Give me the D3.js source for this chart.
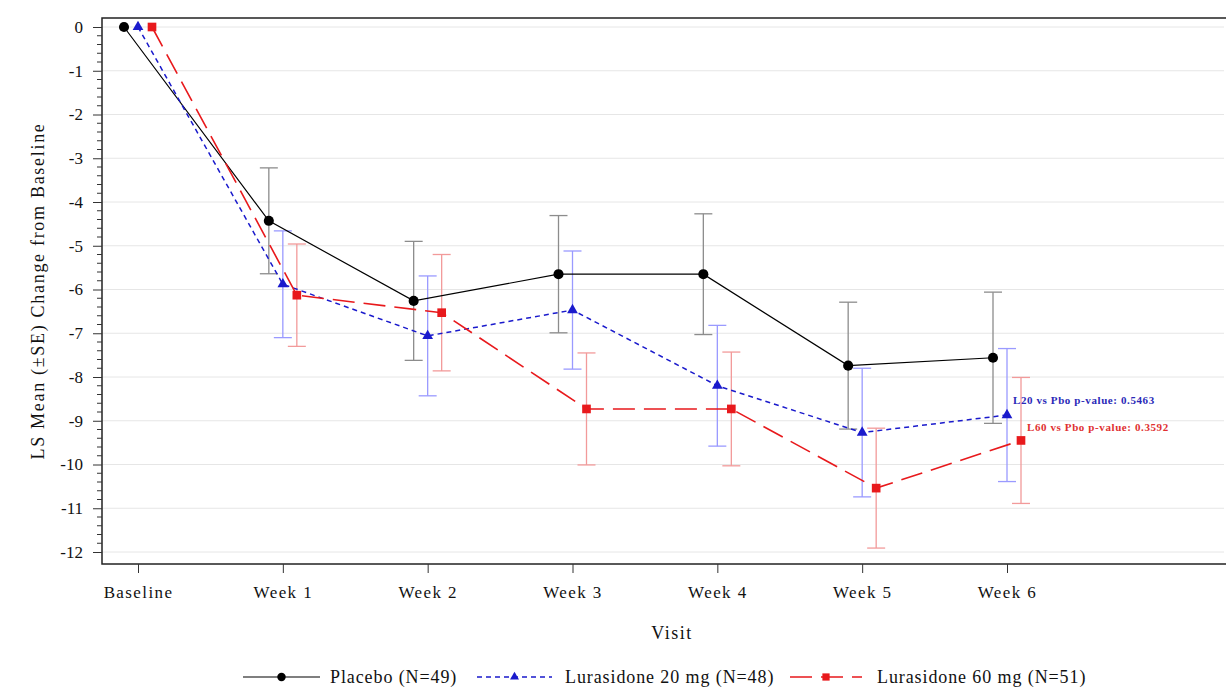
<!DOCTYPE html>
<html><head><meta charset="utf-8">
<script src="https://cdn.jsdelivr.net/npm/d3@7"></script>
<style>body{margin:0;background:#fff}svg{display:block;font-family:"Liberation Serif","Times New Roman",serif}</style>
</head><body><svg id="c" width="1226" height="689"></svg>
<script>
const visits = ["Baseline","Week 1","Week 2","Week 3","Week 4","Week 5","Week 6"];
const placebo   = [0,-4.43,-6.26,-5.65,-5.65,-7.74,-7.56];
const placeboSE = [0,1.21,1.36,1.34,1.38,1.45,1.50];
const l20       = [0,-5.88,-7.06,-6.47,-8.20,-9.27,-8.87];
const l20SE     = [0,1.22,1.37,1.35,1.38,1.47,1.52];
const l60       = [0,-6.13,-6.53,-8.73,-8.73,-10.54,-9.45];
const l60SE     = [0,1.17,1.33,1.28,1.30,1.37,1.44];
const yTicks = [0,-1,-2,-3,-4,-5,-6,-7,-8,-9,-10,-11,-12];
const seriesNames = ["Placebo  (N=49)","Lurasidone 20 mg  (N=48)","Lurasidone 60 mg  (N=51)"];
const pLabels = ["L20 vs Pbo p-value: 0.5463","L60 vs Pbo p-value: 0.3592"];

const svg = d3.select("#c");
const L=102, T=18, R=1224, B=564;
const x = d3.scalePoint().domain(visits).range([138,1007]);
const y = d3.scaleLinear().domain([-12,0]).range([552,27]);

// grid
svg.append("g").selectAll("line").data(yTicks).join("line")
  .attr("x1",L).attr("x2",R).attr("y1",d=>y(d)).attr("y2",d=>y(d))
  .attr("stroke","#e6e6e6").attr("stroke-width",1);

// frame
svg.append("rect").attr("x",L).attr("y",T).attr("width",R-L+5).attr("height",B-T)
  .attr("fill","none").attr("stroke","#222").attr("stroke-width",1.5);

// y axis
const yAx = svg.append("g").attr("transform",`translate(${L},0)`)
  .call(d3.axisLeft(y).tickValues(yTicks).tickSize(9).tickPadding(10).tickFormat(d=>String(d)));
yAx.select(".domain").remove();
yAx.selectAll("text").attr("font-size",17).attr("font-family","Liberation Serif").attr("fill","#111");
yAx.selectAll("line").attr("stroke","#333");
const minor = d3.range(-12,0.001,0.2).filter(v=>Math.abs(v-Math.round(v))>0.01);
svg.append("g").selectAll("line").data(minor).join("line")
  .attr("x1",L-5).attr("x2",L).attr("y1",d=>y(d)).attr("y2",d=>y(d)).attr("stroke","#333");

// x axis
const xAx = svg.append("g").attr("transform",`translate(0,${B})`)
  .call(d3.axisBottom(x).tickSize(9).tickPadding(13));
xAx.select(".domain").remove();
xAx.selectAll("text").attr("font-size",17).attr("letter-spacing",1.4)
  .attr("font-family","Liberation Serif").attr("fill","#111");
xAx.selectAll("line").attr("stroke","#333");

// titles
svg.append("text").attr("x",672).attr("y",639).attr("text-anchor","middle")
  .attr("font-size",18).attr("letter-spacing",1.5).attr("fill","#111").text("Visit");
svg.append("text").attr("transform","translate(44,291) rotate(-90)").attr("text-anchor","middle")
  .attr("font-size",18).attr("letter-spacing",1.7).attr("fill","#111").text("LS Mean (±SE) Change from Baseline");

const series = [
  {v:placebo, se:placeboSE, off:-14, color:"#000", ebar:"#8c8c8c", dash:null, w:1.2, mark:"circle"},
  {v:l20, se:l20SE, off:0, color:"#1a1acc", ebar:"#9a9aff", dash:"5,4", w:1.5, mark:"triangle"},
  {v:l60, se:l60SE, off:14, color:"#e8191c", ebar:"#f29a9a", dash:"22,9", w:1.6, mark:"square"}
];

series.forEach(s=>{
  const g = svg.append("g");
  const pts = visits.map((k,i)=>({k, v:s.v[i], se:s.se[i]}));
  const eb = pts.filter(p=>p.se>0);
  g.selectAll(".ev").data(eb).join("line")
    .attr("x1",p=>x(p.k)+s.off).attr("x2",p=>x(p.k)+s.off)
    .attr("y1",p=>y(p.v+p.se)).attr("y2",p=>y(p.v-p.se)).attr("stroke",s.ebar).attr("stroke-width",1.3);
  [1,-1].forEach(sg=>{
    g.selectAll(".cap"+sg).data(eb).join("line")
      .attr("x1",p=>x(p.k)+s.off-9).attr("x2",p=>x(p.k)+s.off+9)
      .attr("y1",p=>y(p.v+sg*p.se)).attr("y2",p=>y(p.v+sg*p.se)).attr("stroke",s.ebar).attr("stroke-width",1.3);
  });
});
series.forEach(s=>{
  const g = svg.append("g");
  const pts = visits.map((k,i)=>({k, v:s.v[i]}));
  g.append("path").datum(pts)
    .attr("d", d3.line().x(p=>x(p.k)+s.off).y(p=>y(p.v)))
    .attr("fill","none").attr("stroke",s.color).attr("stroke-width",s.w)
    .attr("stroke-dasharray",s.dash);
});
const sym = {circle:d3.symbolCircle, triangle:d3.symbolTriangle, square:d3.symbolSquare};
const size = {circle:80, triangle:50, square:75};
series.forEach(s=>{
  svg.append("g").selectAll("path").data(visits.map((k,i)=>({k,v:s.v[i]}))).join("path")
    .attr("transform",p=>`translate(${x(p.k)+s.off},${y(p.v)})`)
    .attr("d",d3.symbol().type(sym[s.mark]).size(size[s.mark])).attr("fill",s.color);
});

// p-value annotations
svg.append("text").attr("x",x("Week 6")+6).attr("y",404).attr("font-size",11).attr("letter-spacing",0.6).attr("font-weight","bold")
  .attr("fill","#2a2ab8").text(pLabels[0]);
svg.append("text").attr("x",x("Week 6")+20).attr("y",431).attr("font-size",11).attr("letter-spacing",0.6).attr("font-weight","bold")
  .attr("fill","#e03030").text(pLabels[1]);

// legend
const leg = [
  {x1:243,x2:320,tx:330,s:series[0]},
  {x1:477,x2:552,tx:565,s:series[1]},
  {x1:790,x2:862,tx:877,s:series[2]}
];
leg.forEach((l,i)=>{
  const g = svg.append("g");
  g.append("line").attr("x1",l.x1).attr("x2",l.x2).attr("y1",677).attr("y2",677)
    .attr("stroke",l.s.color).attr("stroke-width",l.s.w).attr("stroke-dasharray",l.s.dash);
  g.append("path").attr("transform",`translate(${(l.x1+l.x2)/2},677)`)
    .attr("d",d3.symbol().type(sym[l.s.mark]).size(size[l.s.mark]*0.7)).attr("fill",l.s.color);
  g.append("text").attr("x",l.tx).attr("y",683).attr("font-size",18).attr("letter-spacing",0.9).attr("fill","#111").text(seriesNames[i]);
});
</script></body></html>
